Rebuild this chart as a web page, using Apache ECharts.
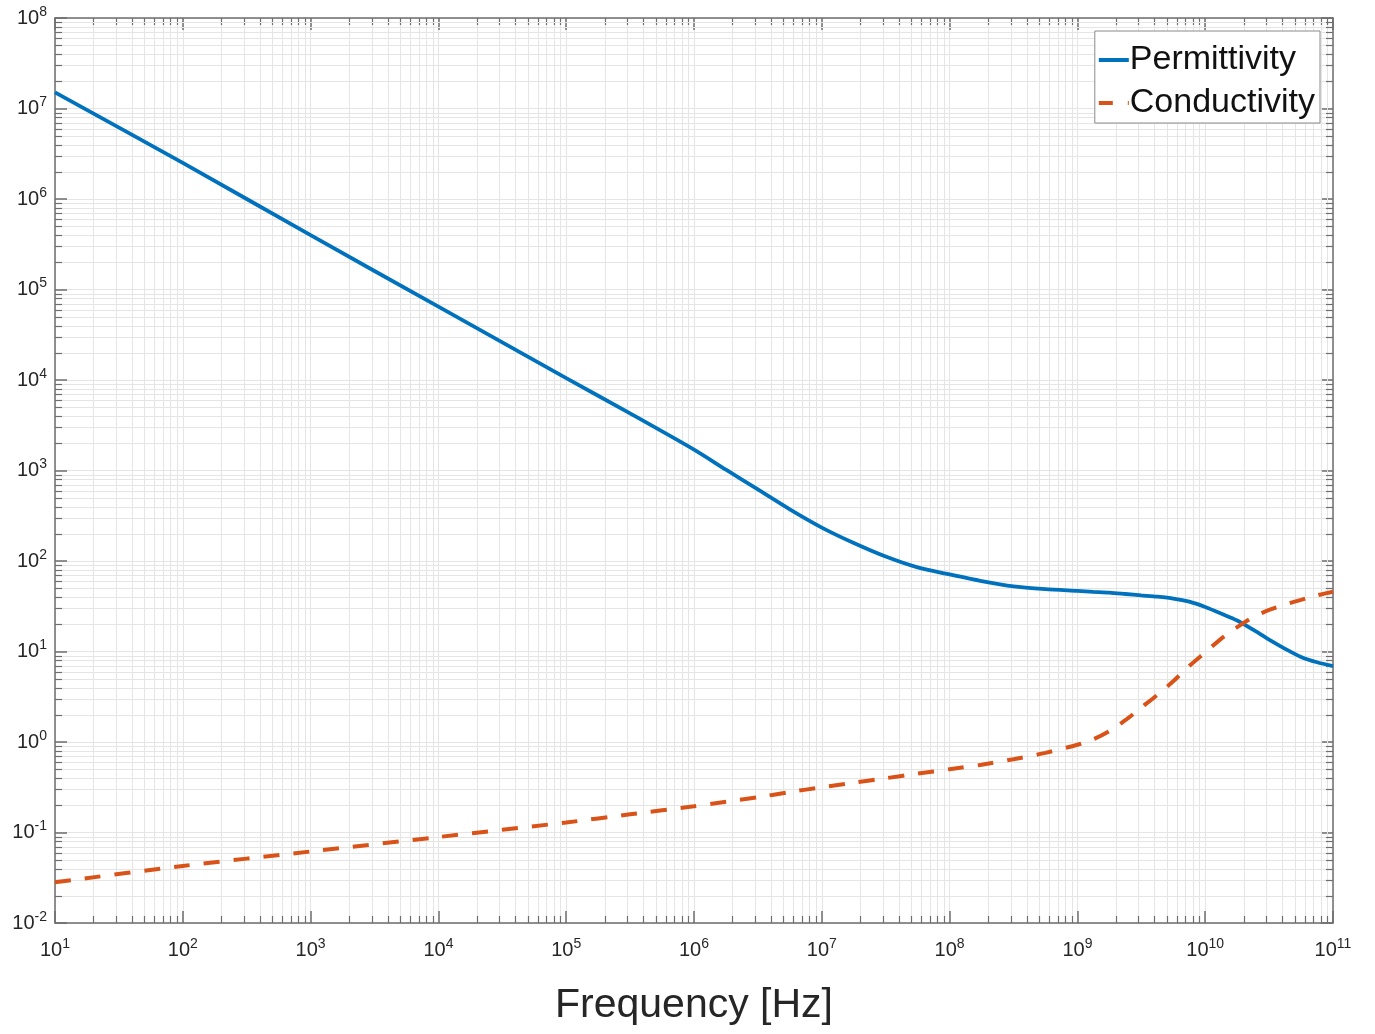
<!DOCTYPE html>
<html>
<head>
<meta charset="utf-8">
<script src="https://cdn.jsdelivr.net/npm/echarts@6/dist/echarts.min.js"></script>
<style>
  html, body { margin: 0; padding: 0; background: #fff; }
  #main { width: 1375px; height: 1034px; }
</style>
</head>
<body>
<div id="main"></div>
<script>
// (log-log), frequency in Hz
var freq = [1e1, 1e2, 1e3, 1e4, 1e5, 3.16e5, 1e6, 1.78e6, 3.16e6, 5.62e6,
  1e7, 1.78e7, 3.16e7, 5.62e7, 1e8, 1.78e8, 3.16e8, 5.62e8,
  1e9, 1.33e9, 1.78e9, 2.37e9, 3.16e9, 4.22e9, 5.62e9, 7.5e9,
  1e10, 1.33e10, 1.78e10, 2.37e10, 3.16e10, 4.22e10, 5.62e10, 7.5e10, 1e11];
var permittivity = [1.51e7, 2.51e6, 3.98e5, 6.46e4, 1.05e4, 4.27e3, 1.70e3, 1.02e3, 617, 372,
  234, 158, 112, 85, 71, 60, 52.5, 49,
  46.8, 45.7, 44.7, 43.2, 41.7, 40.3, 38.5, 35.5,
  31, 26.3, 22, 17.4, 13.5, 10.7, 8.7, 7.6, 6.9];
var conductivity = [0.0282, 0.0427, 0.0617, 0.0891, 0.129, 0.159, 0.195, 0.219, 0.245, 0.28,
  0.316, 0.355, 0.398, 0.447, 0.501, 0.56, 0.646, 0.759,
  0.933, 1.07, 1.32, 1.74, 2.40, 3.31, 4.68, 6.92,
  9.77, 13.8, 18.6, 24.0, 28.8, 33.1, 37.2, 41.7, 45.7];

var xDecades = [1, 2, 3, 4, 5, 6, 7, 8, 9, 10]; // minor 2..9 x 10^k
var yDecades = [-2, -1, 0, 1, 2, 3, 4, 5, 6, 7];

var xMinor = [];
xDecades.forEach(function (k) {
  for (var m = 2; m <= 9; m++) xMinor.push([m * Math.pow(10, k), 1]);
});
var yMinor = [];
yDecades.forEach(function (k) {
  for (var m = 2; m <= 9; m++) yMinor.push([10, m * Math.pow(10, k)]);
});

var gridColor = '#e5e5e5';
var boxColor = '#6e6e6e';
var textColor = '#262626';

var myChart = echarts.init(document.getElementById('main'));

function expLabel(value) {
  var e = Math.round(Math.log10(value));
  return '{b|10}{s|' + e + '}';
}
var richLabel = {
  b: { fontSize: 20, color: textColor, fontFamily: 'Liberation Sans' },
  s: { fontSize: 14, color: textColor, fontFamily: 'Liberation Sans', padding: [0, 0, 12, 0] }
};

function pairs(vals) {
  return vals.map(function (v, j) { return [freq[j], v]; });
}

var logX = { type: 'log', logBase: 10, min: 10, max: 1e11, interval: 1, splitNumber: 10 };
var logY = { type: 'log', logBase: 10, min: 0.01, max: 1e8, interval: 1, splitNumber: 10 };

var option = {
  animation: false,
  backgroundColor: '#fff',
  grid: { left: 55, right: 42, top: 18, bottom: 111, containLabel: false },
  legend: {
    data: [
      { name: 'Permittivity', icon: 'path://M0,0h30v4h-30z' },
      { name: 'Conductivity', icon: 'path://M0,0h14v4h-14z M29,0h1v4h-1z' }
    ],
    orient: 'vertical',
    right: 55,
    top: 31,
    padding: [12, 5, 3, 4],
    itemGap: 9,
    itemWidth: 30,
    itemHeight: 4,
    backgroundColor: '#fff',
    borderColor: '#8a8a8a',
    borderWidth: 1,
    borderRadius: 0,
    textStyle: { fontSize: 34, color: '#111', fontFamily: 'Liberation Sans', padding: [0, 0, 0, -4] }
  },
  xAxis: [
    Object.assign({
      position: 'bottom',
      name: 'Frequency [Hz]',
      nameLocation: 'middle',
      nameGap: 62,
      nameTextStyle: { fontSize: 41, color: textColor, fontFamily: 'Liberation Sans' },
      axisLine: { show: true, lineStyle: { color: boxColor, width: 1.5 } },
      axisTick: { show: true, inside: true, length: 12, lineStyle: { color: boxColor, width: 1.5 } },
      axisLabel: { formatter: expLabel, rich: richLabel, margin: 14 },
      splitLine: { show: true, lineStyle: { color: gridColor, width: 1 } }
    }, logX),
    Object.assign({
      position: 'top',
      axisLine: { show: true, lineStyle: { color: boxColor, width: 1.5 } },
      axisTick: { show: true, inside: true, length: 12, lineStyle: { color: boxColor, width: 1.5 } },
      axisLabel: { show: false },
      splitLine: { show: false }
    }, logX)
  ],
  yAxis: [
    Object.assign({
      position: 'left',
      axisLine: { show: true, lineStyle: { color: boxColor, width: 1.5 } },
      axisTick: { show: true, inside: true, length: 12, lineStyle: { color: boxColor, width: 1.5 } },
      axisLabel: { formatter: expLabel, rich: richLabel, margin: 8 },
      splitLine: { show: true, lineStyle: { color: gridColor, width: 1 } }
    }, logY),
    Object.assign({
      position: 'right',
      axisLine: { show: true, lineStyle: { color: boxColor, width: 1.5 } },
      axisTick: { show: true, inside: true, length: 12, lineStyle: { color: boxColor, width: 1.5 } },
      axisLabel: { show: false },
      splitLine: { show: false }
    }, logY)
  ],
  series: [
    {
      // minor vertical grid + minor ticks bottom/top
      type: 'custom',
      silent: true,
      z: 1,
      data: xMinor,
      renderItem: function (params, api) {
        var cs = params.coordSys;
        var p = api.coord([api.value(0), api.value(1)]);
        var x = Math.round(p[0]) + 0.5;
        var top = cs.y, bot = cs.y + cs.height;
        return {
          type: 'group',
          children: [
            { type: 'line', shape: { x1: x, y1: top, x2: x, y2: bot }, style: { stroke: gridColor, lineWidth: 1 } },
            { type: 'line', shape: { x1: x, y1: bot, x2: x, y2: bot - 7 }, style: { stroke: boxColor, lineWidth: 1.2 } },
            { type: 'line', shape: { x1: x, y1: top, x2: x, y2: top + 7 }, style: { stroke: boxColor, lineWidth: 1.2 } }
          ]
        };
      }
    },
    {
      // minor horizontal grid + minor ticks left/right
      type: 'custom',
      silent: true,
      z: 1,
      data: yMinor,
      renderItem: function (params, api) {
        var cs = params.coordSys;
        var p = api.coord([api.value(0), api.value(1)]);
        var y = Math.round(p[1]) + 0.5;
        var l = cs.x, r = cs.x + cs.width;
        return {
          type: 'group',
          children: [
            { type: 'line', shape: { x1: l, y1: y, x2: r, y2: y }, style: { stroke: gridColor, lineWidth: 1 } },
            { type: 'line', shape: { x1: l, y1: y, x2: l + 7, y2: y }, style: { stroke: boxColor, lineWidth: 1.2 } },
            { type: 'line', shape: { x1: r, y1: y, x2: r - 7, y2: y }, style: { stroke: boxColor, lineWidth: 1.2 } }
          ]
        };
      }
    },
    {
      name: 'Permittivity',
      type: 'line',
      z: 3,
      data: pairs(permittivity),
      symbol: 'none',
      smooth: 0.25,
      itemStyle: { color: '#0072BD' },
      lineStyle: { color: '#0072BD', width: 3.8 }
    },
    {
      name: 'Conductivity',
      type: 'line',
      z: 3,
      data: pairs(conductivity),
      symbol: 'none',
      smooth: 0.25,
      itemStyle: { color: '#D95319' },
      lineStyle: { color: '#D95319', width: 4, type: [16, 14], cap: 'butt' }
    }
  ]
};

myChart.setOption(option, true);
</script>
</body>
</html>
